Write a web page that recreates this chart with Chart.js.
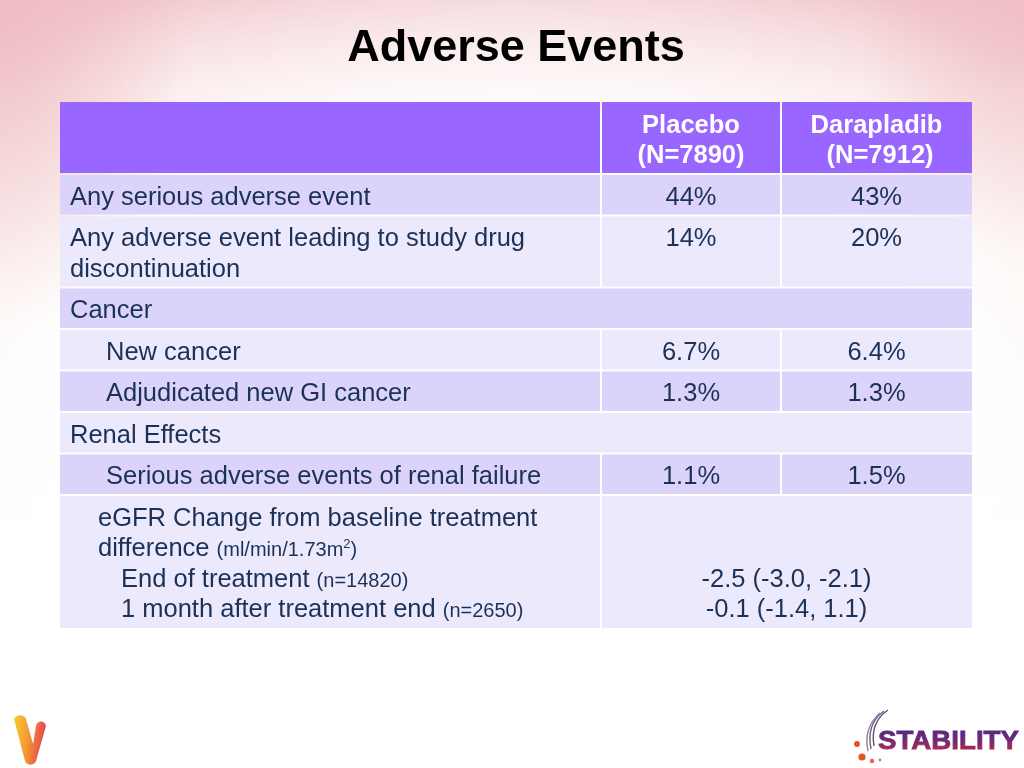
<!DOCTYPE html>
<html>
<head>
<meta charset="utf-8">
<title>Adverse Events</title>
<script src="https://cdn.jsdelivr.net/npm/chart.js@4.4.1/dist/chart.umd.min.js"></script>
<style>
  html, body { margin: 0; padding: 0; }
  body {
    width: 1024px;
    height: 768px;
    overflow: hidden;
    position: relative;
    background:
      radial-gradient(ellipse 190px 330px at 0 0, rgba(238,186,192,0.85) 0%, rgba(238,186,192,0) 100%),
      radial-gradient(ellipse 170px 260px at 100% 0, rgba(238,186,192,0.65) 0%, rgba(238,186,192,0) 100%),
      radial-gradient(ellipse 72% 64% at 50% 54%, #ffffff 58%, rgba(255,255,255,0) 100%),
      linear-gradient(#f1c6cb 0%, #f8e0e0 12%, #fcf2ee 38%, #ffffff 72%);
  }
  #wrap { position: absolute; left: 0; top: 0; width: 1024px; height: 768px; }
  .logo { position: absolute; }
</style>
</head>
<body>
<div id="wrap"><canvas id="c"></canvas></div>

<svg class="logo" style="left:10px;top:708px" width="44" height="60" viewBox="0 0 44 60">
  <defs>
    <linearGradient id="vg" x1="0" y1="0" x2="1" y2="0.2">
      <stop offset="0" stop-color="#f6c81a"/>
      <stop offset="0.5" stop-color="#f39022"/>
      <stop offset="1" stop-color="#e2383a"/>
    </linearGradient>
  </defs>
  <path d="M4 11 C6 6 14 6 16 11 L23 36 L26 18 C27 12 35 12 36 18 L26 53 C24 58 17 58 15 53 Z" fill="url(#vg)" opacity="0.92"/>
</svg>

<svg class="logo" style="left:846px;top:700px" width="178" height="68" viewBox="0 0 178 68">
  <defs>
    <linearGradient id="sg" x1="0" y1="0" x2="0" y2="1">
      <stop offset="0" stop-color="#4a2884"/>
      <stop offset="0.5" stop-color="#6e2a78"/>
      <stop offset="1" stop-color="#c8283c"/>
    </linearGradient>
  </defs>
  <path d="M38 11 Q20 24 25 49" stroke="#6d5f80" stroke-width="1.4" fill="none"/>
  <path d="M34 13 Q17 28 22 51" stroke="#8e829c" stroke-width="1.4" fill="none"/>
  <path d="M42 10 Q24 22 28 46" stroke="#5d4f72" stroke-width="1.4" fill="none"/>
  <circle cx="11" cy="44" r="3" fill="#e8502a"/>
  <circle cx="16" cy="57" r="3.6" fill="#e8502a"/>
  <circle cx="26" cy="61" r="2.2" fill="#e0664a"/>
  <circle cx="34" cy="60" r="1.4" fill="#9a8aa6"/>
  <text x="32" y="49" font-family="Liberation Sans, Arial, sans-serif" font-weight="bold"
        font-size="26" textLength="141" lengthAdjust="spacingAndGlyphs" fill="url(#sg)"
        stroke="url(#sg)" stroke-width="0.8">STABILITY</text>
</svg>

<script>
  // --- table content ---
  const columnHeaders = ["", "Placebo\n(N=7890)", "Darapladib\n (N=7912)"];

  // {...} = small text, ^x = superscript character
  const rowLabels = [
    "Any serious adverse event",
    "Any adverse event leading to study drug\ndiscontinuation",
    "Cancer",
    "New cancer",
    "Adjudicated new GI cancer",
    "Renal Effects",
    "Serious adverse events of renal failure",
    "eGFR Change from baseline treatment\ndifference {(ml/min/1.73m^2)}\nEnd of treatment {(n=14820)}\n1 month after treatment end {(n=2650)}",
  ];

  const placeboValues = ["44%", "14%", null, "6.7%", "1.3%", null, "1.1%", null];
  const darapladibValues = ["43%", "20%", null, "6.4%", "1.3%", null, "1.5%", null];
  const treatmentDifference = [null, null, null, null, null, null, null,
    "-2.5 (-3.0, -2.1)\n-0.1 (-1.4, 1.1)"];

  // --- layout (table units = px) ---
  const COL_EDGES = [0, 541, 721, 912];
  const LABEL_INDENT = [10, 10, 10, 46, 46, 10, 46, [38, 38, 61, 61]];
  const ROW_PAD = 11;
  const LINE_H = 30.5;
  const FIRST_BASE = 30.5;
  const FAMILY = "'Liberation Sans', Arial, sans-serif";
  const TEXT = "#1b3157";
  const HEAD_BG = "#9966ff";
  const BAND = ["#dcd3fb", "#ece9fd"];

  const lineCount = (s) => (s ? s.split("\n").length : 1);
  const headerLines = Math.max(...columnHeaders.map(lineCount));
  const rowHeights = [headerLines, ...rowLabels.map(lineCount)].map(
    (n) => ROW_PAD + LINE_H * n
  );
  const rowTops = [];
  let acc = 0;
  rowHeights.forEach((h) => { rowTops.push(acc); acc += h; });
  const TABLE_H = acc;

  function parseRuns(str) {
    const runs = [];
    let small = false;
    let cur = "";
    const flush = () => {
      if (cur) runs.push({ t: cur, kind: small ? "small" : "normal" });
      cur = "";
    };
    for (let i = 0; i < str.length; i++) {
      const ch = str[i];
      if (ch === "{") { flush(); small = true; }
      else if (ch === "}") { flush(); small = false; }
      else if (ch === "^") { flush(); runs.push({ t: str[++i], kind: "sup" }); }
      else cur += ch;
    }
    flush();
    return runs;
  }

  function runFont(kind, bold) {
    const size = kind === "small" ? 20 : kind === "sup" ? 13 : 25.5;
    return (bold ? "bold " : "") + size + "px " + FAMILY;
  }

  function drawRich(ctx, str, x, y, align, bold) {
    const runs = parseRuns(str);
    let w = 0;
    runs.forEach((r) => {
      ctx.font = runFont(r.kind, bold);
      r.w = ctx.measureText(r.t).width;
      w += r.w;
    });
    let cx = align === "center" ? x - w / 2 : x;
    ctx.textAlign = "left";
    ctx.textBaseline = "alphabetic";
    runs.forEach((r) => {
      ctx.font = runFont(r.kind, bold);
      ctx.fillText(r.t, cx, r.kind === "sup" ? y - 8 : y);
      cx += r.w;
    });
  }

  const tablePlugin = {
    id: "adverseTable",
    afterDraw(chart) {
      const { ctx } = chart;
      const xs = chart.scales.x;
      const ys = chart.scales.y;
      const px = (u) => xs.getPixelForValue(u);
      const py = (u) => ys.getPixelForValue(u);
      const nRows = rowHeights.length;

      function cell(c0, c1, r, color) {
        const l = px(COL_EDGES[c0]) + (c0 > 0 ? 1 : 0);
        const rr = px(COL_EDGES[c1]) - (c1 < COL_EDGES.length - 1 ? 1 : 0);
        const t = py(rowTops[r]) + (r > 0 ? 1 : 0);
        const b = py(rowTops[r] + rowHeights[r]) - (r < nRows - 1 ? 1 : 0);
        ctx.fillStyle = color;
        ctx.fillRect(l, t, rr - l, b - t);
      }

      function lines(str, x, r, align, color, bold, startLine) {
        ctx.fillStyle = color;
        str.split("\n").forEach((ln, i) => {
          const xx = Array.isArray(x) ? x[i] : x;
          const base = rowTops[r] + FIRST_BASE + LINE_H * (i + (startLine || 0));
          drawRich(ctx, ln, px(xx), py(base), align, bold);
        });
      }

      ctx.save();
      // header
      for (let c = 0; c < columnHeaders.length; c++) {
        cell(c, c + 1, 0, HEAD_BG);
        if (columnHeaders[c]) {
          const mid = (COL_EDGES[c] + COL_EDGES[c + 1]) / 2;
          lines(columnHeaders[c], mid, 0, "center", "#ffffff", true);
        }
      }
      // body rows
      rowLabels.forEach((label, i) => {
        const r = i + 1;
        const bg = BAND[i % 2];
        const section = placeboValues[i] == null && darapladibValues[i] == null &&
          treatmentDifference[i] == null;
        if (section) {
          cell(0, 3, r, bg);
        } else {
          cell(0, 1, r, bg);
          if (treatmentDifference[i] != null) {
            cell(1, 3, r, bg);
            const mid = (COL_EDGES[1] + COL_EDGES[3]) / 2;
            const start = lineCount(label) - lineCount(treatmentDifference[i]);
            lines(treatmentDifference[i], mid, r, "center", TEXT, false, start);
          } else {
            cell(1, 2, r, bg);
            cell(2, 3, r, bg);
            lines(placeboValues[i], (COL_EDGES[1] + COL_EDGES[2]) / 2, r, "center", TEXT, false);
            lines(darapladibValues[i], (COL_EDGES[2] + COL_EDGES[3]) / 2, r, "center", TEXT, false);
          }
        }
        lines(label, LABEL_INDENT[i], r, "left", TEXT, false);
      });
      ctx.restore();
    },
  };

  function build() {
    new Chart(document.getElementById("c"), {
      type: "scatter",
      data: { datasets: [{ data: [] }] },
      options: {
        responsive: true,
        maintainAspectRatio: false,
        animation: false,
        events: [],
        layout: { padding: { left: 60, right: 52, top: 0, bottom: 768 - 102 - TABLE_H } },
        plugins: {
          legend: { display: false },
          tooltip: { enabled: false },
          title: {
            display: true,
            text: "Adverse Events",
            color: "#000000",
            font: { family: FAMILY, size: 45, weight: "bold" },
            padding: { top: 22, bottom: 26 },
          },
        },
        scales: {
          x: { type: "linear", min: 0, max: COL_EDGES[COL_EDGES.length - 1], display: false },
          y: { type: "linear", min: 0, max: TABLE_H, reverse: true, display: false },
        },
      },
      plugins: [tablePlugin],
    });
  }

  Promise.all([
    document.fonts.load("25px 'Liberation Sans'"),
    document.fonts.load("bold 25px 'Liberation Sans'"),
  ]).then(build, build);
</script>
</body>
</html>
